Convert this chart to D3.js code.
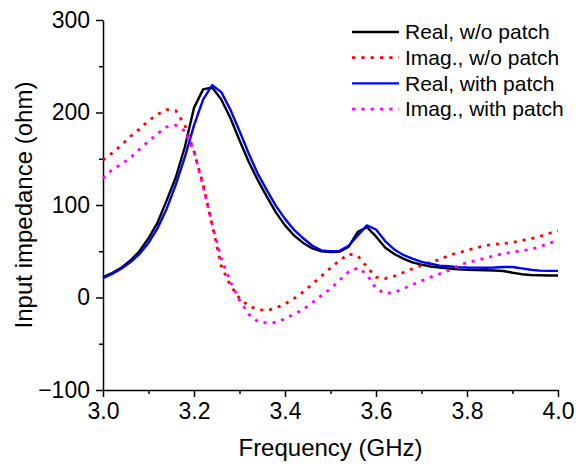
<!DOCTYPE html>
<html>
<head>
<meta charset="utf-8">
<script src="https://cdn.jsdelivr.net/npm/d3@7"></script>
<style>
  body { margin: 0; background: #fff; }
  svg text { font-family: "Liberation Sans", Arial, sans-serif; fill: #000; }
</style>
</head>
<body>
<div id="chart"></div>
<script>
// Input impedance vs frequency, with and without patch

// Frequency samples (GHz), 0.02 step from 3.0 to 4.0
const freq = d3.range(0, 51).map(i => +(3 + i * 0.02).toFixed(2));

const realNoPatch = [
    22, 26.5, 32, 40, 50, 64, 81, 105, 130, 163,
    205, 225, 227, 214, 194, 170, 147, 127, 109, 92,
    78, 67, 59, 53, 50, 49, 49.5, 55, 71, 76,
    66, 54, 47, 42, 38, 35.5, 33.5, 32.4, 31.3, 30.4,
    30, 29.7, 29.5, 29.2, 28.7, 26.8, 25.2, 24.3, 24, 23.8, 23.8
];
const imagNoPatch = [
    148.4, 156, 164.5, 174, 182, 191, 198, 203.2, 202, 186,
    158, 122, 78, 34, 13, -1, -9, -13, -14, -11.5,
    -7, -1, 6, 14.5, 23, 32, 40, 47, 45, 33,
    22, 20.5, 23, 27, 31, 34.5, 38, 41, 45.5, 48.2,
    51, 53.5, 56, 57.5, 58.2, 59.5, 61.5, 63.5, 66, 69.2, 72
];
const realPatch = [
    21, 25.5, 31, 38, 47, 59, 75, 96, 122, 152,
    186, 214, 229.5, 222, 203, 180, 156, 134, 116, 99,
    85, 73, 64, 56, 51, 50, 50.4, 56, 67, 78,
    73.5, 61, 52, 46, 42, 38.5, 36.5, 34.5, 33.8, 32.8,
    32.4, 32.3, 32.2, 32.4, 33, 33, 31.5, 30, 29, 28.8, 28.8
];
const imagPatch = [
    128.6, 138, 144, 151, 160, 169, 177, 184.5, 186.3, 180,
    158, 120, 79, 42, 17, -3, -18, -26, -27.5, -27,
    -23, -18, -13, -5.5, 2, 9.5, 18.7, 28, 32, 25,
    9.5, 4.3, 5.5, 9.5, 13.8, 18, 22, 25.5, 29.3, 34,
    38, 40, 42.5, 45, 47.5, 49, 50.5, 52, 55, 58.4, 62
];

const seriesNames = ['Real, w/o patch', 'Imag., w/o patch', 'Real, with patch', 'Imag., with patch'];
const seriesValues = [realNoPatch, imagNoPatch, realPatch, imagPatch];
const seriesColors = ['#000000', '#ff0000', '#0000ff', '#ff00ff'];
const seriesDotted = [false, true, false, true];

const xTicks = [3.0, 3.2, 3.4, 3.6, 3.8, 4.0];
const yTicks = [-100, 0, 100, 200, 300];

const W = 576, H = 466;
const margin = {top: 20, right: 18, bottom: 76, left: 103};
const width = W - margin.left - margin.right;
const height = H - margin.top - margin.bottom;

const svg = d3.select('#chart').append('svg')
    .attr('width', W)
    .attr('height', H);

const g = svg.append('g')
    .attr('transform', `translate(${margin.left},${margin.top})`);

const x = d3.scaleLinear().domain([3.0, 4.0]).range([0, width]);
const y = d3.scaleLinear().domain([-100, 300]).range([height, 0]);

// Minor ticks first, then major axes on top
g.append('g')
    .attr('transform', `translate(0,${height})`)
    .call(d3.axisBottom(x).tickValues(d3.range(3.1, 4.0, 0.2)).tickSize(4).tickFormat(''))
    .call(a => a.select('.domain').remove())
    .selectAll('line').attr('stroke-width', 1.5);

g.append('g')
    .call(d3.axisLeft(y).tickValues([-50, 50, 150, 250]).tickSize(4).tickFormat(''))
    .call(a => a.select('.domain').remove())
    .selectAll('line').attr('stroke-width', 1.5);

const xAxis = g.append('g')
    .attr('transform', `translate(0,${height})`)
    .call(d3.axisBottom(x).tickValues(xTicks).tickSize(7).tickSizeOuter(0).tickPadding(6).tickFormat(d3.format('.1f')));

const yAxis = g.append('g')
    .call(d3.axisLeft(y).tickValues(yTicks).tickSize(7).tickSizeOuter(0).tickPadding(6));

[xAxis, yAxis].forEach(a => {
    a.select('.domain').attr('stroke-width', 1.5);
    a.selectAll('.tick line').attr('stroke-width', 1.5);
    a.selectAll('.tick text')
        .style('font-size', '23px')
        .style('font-family', '"Liberation Sans", Arial, sans-serif');
});

// Axis titles
g.append('text')
    .attr('x', width / 2)
    .attr('y', height + 66)
    .attr('text-anchor', 'middle')
    .style('font-size', '24px')
    .text('Frequency (GHz)');

g.append('text')
    .attr('transform', 'rotate(-90)')
    .attr('x', -height / 2)
    .attr('y', -71)
    .attr('text-anchor', 'middle')
    .style('font-size', '24px')
    .text('Input impedance (ohm)');

// Curves
const line = d3.line()
    .x((d, i) => x(freq[i]))
    .y(d => y(d));

seriesValues.forEach((vals, k) => {
    g.append('path')
        .datum(vals)
        .attr('fill', 'none')
        .attr('stroke', seriesColors[k])
        .attr('stroke-width', seriesDotted[k] ? 2.8 : 2.4)
        .attr('stroke-dasharray', seriesDotted[k] ? '3,6' : null)
        .attr('stroke-linejoin', 'round')
        .attr('d', line);
});

// Legend
const legend = svg.append('g')
    .attr('transform', 'translate(352,32)');

seriesNames.forEach((name, k) => {
    const row = legend.append('g').attr('transform', `translate(0,${k * 25.7})`);
    row.append('line')
        .attr('x1', 0).attr('x2', 47)
        .attr('y1', 0).attr('y2', 0)
        .attr('stroke', seriesColors[k])
        .attr('stroke-width', seriesDotted[k] ? 2.8 : 2.4)
        .attr('stroke-dasharray', seriesDotted[k] ? '3.3,6' : null);
    row.append('text')
        .attr('x', 53)
        .attr('y', 0)
        .attr('dy', '0.35em')
        .style('font-size', '21px')
        .text(name);
});
</script>
</body>
</html>
